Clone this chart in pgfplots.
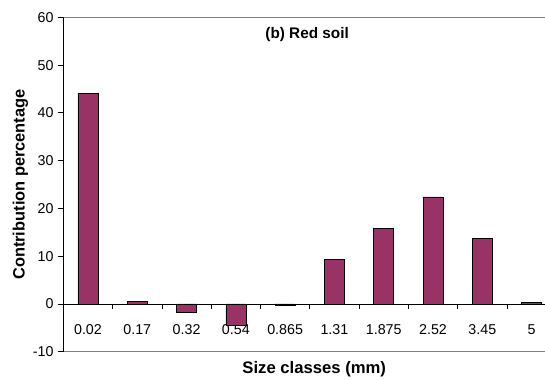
\documentclass[border=0pt]{standalone}
\usepackage{fontspec}
\setmainfont{Liberation Sans}
\usepackage{pgfplots}
\pgfplotsset{compat=1.18}
\definecolor{barc}{HTML}{993366}
\begin{document}
\begin{tikzpicture}
\begin{axis}[
  scale only axis, width=369.75pt, height=250.8pt,
  xmin=-0.5, xmax=9.5, ymin=-10, ymax=60,
  ytick={-10,0,10,20,30,40,50,60},
  ytick pos=left, tick align=outside, major tick length=3.75pt,
  xtick={0,...,9},
  xticklabels={0.02,0.17,0.32,0.54,0.865,1.31,1.875,2.52,3.45,5},
  x tick style={draw=none},
  y tick style={black, line width=0.6pt},
  xticklabel style={anchor=center, yshift=20.1pt},
  ticklabel style={font=\fontsize{10.7}{12}\selectfont},
  /pgf/number format/assume math mode=true,
  axis line style={draw=gray, line width=0.9pt},
  xlabel={Size classes (mm)},
  xlabel style={at={(axis description cs:0.509,-0.052)}, anchor=center, font=\bfseries\fontsize{12.5}{15}\selectfont},
  ylabel={Contribution percentage},
  ylabel style={at={(axis description cs:-0.0872,0.5)}, anchor=center, font=\bfseries\fontsize{12.3}{15}\selectfont},
  clip=false,
]
\addplot[ybar, bar width=15pt, fill=barc, draw=black, line width=0.5pt]
  coordinates {(0,44.1)(1,0.5)(2,-1.7)(3,-4.5)(4,-0.3)(5,9.3)(6,15.8)(7,22.4)(8,13.7)(9,0.3)};
\draw[black, line width=0.6pt] (axis cs:-0.5,0) -- (axis cs:9.5,0);
\pgfplotsinvokeforeach{0.5,1.5,2.5,3.5,4.5,5.5,6.5,7.5,8.5}{
  \draw[black, line width=0.6pt] (axis cs:#1,0) -- ([yshift=-3.75pt]axis cs:#1,0);
}
\draw[black, line width=0.8pt] (rel axis cs:0,0) -- (rel axis cs:0,1);
\node[font=\bfseries\fontsize{11.5}{13}\selectfont] at (axis description cs:0.4946,0.950) {(b) Red soil};
\coordinate (SW) at (rel axis cs:0,0);
\end{axis}
\pgfresetboundingbox
\path[use as bounding box] ([shift={(-47.5pt,-20.5pt)}]SW) rectangle ([shift={(361.3pt,263.8pt)}]SW);
\end{tikzpicture}
\end{document}
